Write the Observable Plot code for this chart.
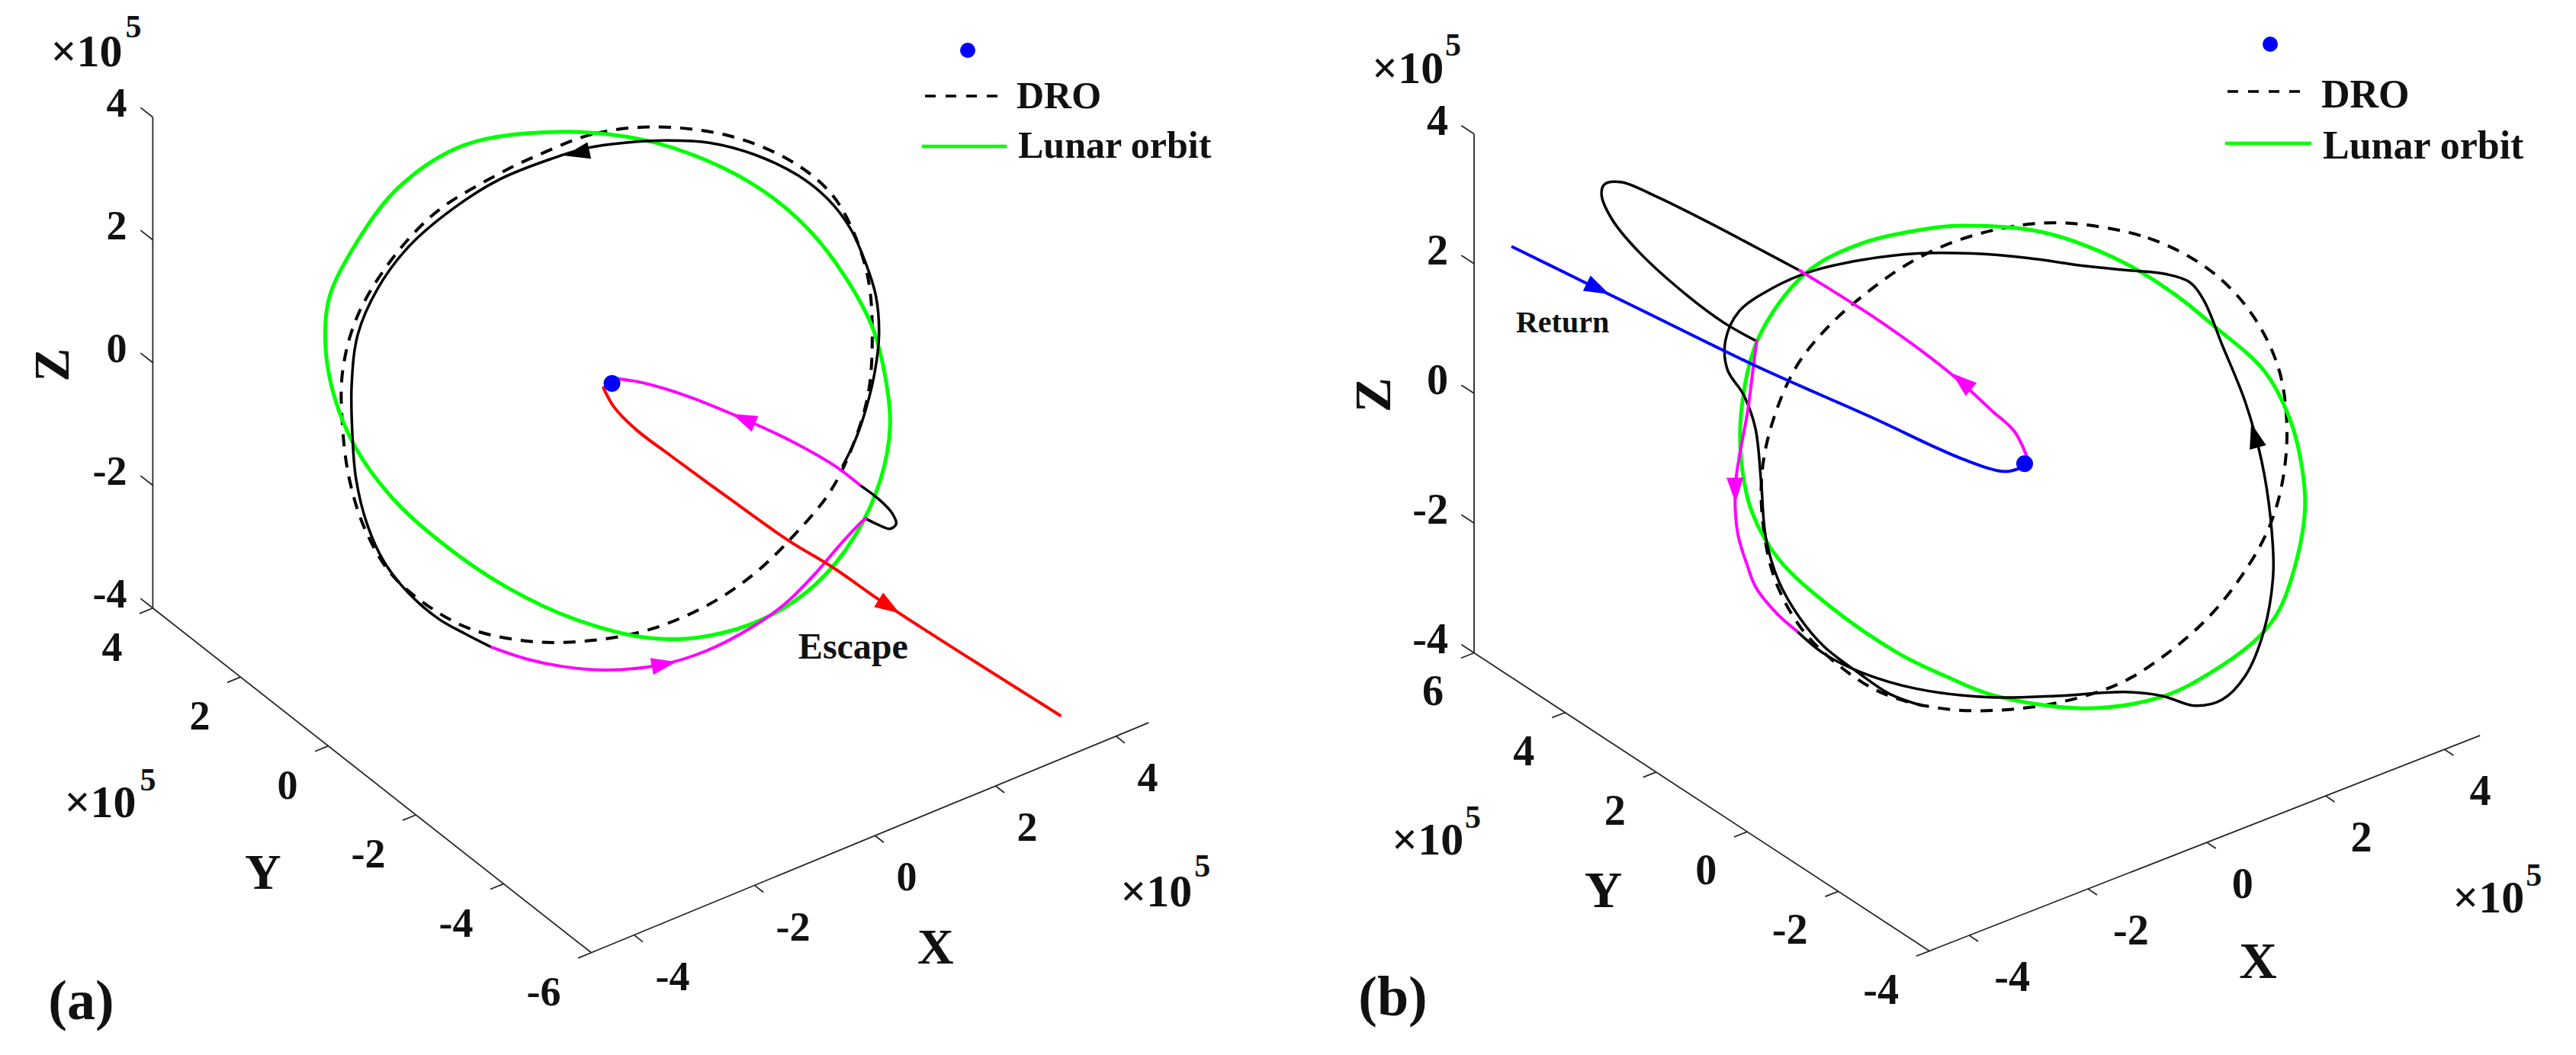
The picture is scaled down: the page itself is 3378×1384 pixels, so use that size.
<!DOCTYPE html>
<html><head><meta charset="utf-8">
<script src="https://cdn.jsdelivr.net/npm/d3@7"></script>
<script src="https://cdn.jsdelivr.net/npm/@observablehq/plot@0.6"></script>
<style>
html,body{margin:0;padding:0;background:#fff;}
#fig{display:flex;width:3378px;height:1384px;}
.panel{position:relative;width:1689px;height:1384px;}
</style></head>
<body><div id="fig"><div class="panel" id="pa"></div><div class="panel" id="pb"></div></div>
<script>
// ---------- tick values / axis limits (×1e5 km) ----------
const xTicks = [-4, -2, 0, 2, 4];
const zTicks = [-4, -2, 0, 2, 4];
const yTicksA = [-6, -4, -2, 0, 2, 4];
const yTicksB = [-4, -2, 0, 2, 4, 6];
const limitsA = {x: [-4.71, 4.54], y: [-6, 4], z: [-4, 4]};
const limitsB = {x: [-4.67, 4.60], y: [-4, 6], z: [-4, 4]};
const legendLabels = ["DRO", "Lunar orbit"];
const earth = [[0, 0]];

// ---------- panel (a): curves in view-plane coordinates (×1e5 km) ----------
const lunarA = [[-0.89,4.10],[-2.39,3.89],[-3.46,3.21],[-4.17,2.28],[-4.60,1.42],[-4.67,0.67],[-4.53,-0.19],[-4.17,-1.06],[-3.53,-1.92],[-2.68,-2.67],[-1.68,-3.34],[-0.61,-3.84],[0.61,-4.15],[1.53,-4.12],[2.46,-3.84],[3.31,-3.28],[3.96,-2.48],[4.38,-1.55],[4.53,-0.69],[4.46,0.06],[4.24,0.92],[3.81,1.72],[3.24,2.47],[2.46,3.14],[1.53,3.64],[0.46,3.98]];
const droA = [[0.68,4.18],[-0.32,4.06],[-1.25,3.70],[-1.89,3.39],[-2.89,2.77],[-3.67,1.91],[-4.17,1.04],[-4.39,0.18],[-4.39,-0.69],[-4.28,-1.55],[-4.03,-2.36],[-3.60,-3.10],[-2.96,-3.65],[-2.25,-4.02],[-1.25,-4.21],[-0.25,-4.18],[0.68,-3.99],[1.60,-3.59],[2.32,-3.10],[2.96,-2.48],[3.53,-1.80],[3.88,-1.12],[4.17,-0.19],[4.24,0.80],[4.17,1.72],[3.88,2.59],[3.53,3.14],[2.89,3.64],[1.89,4.04]];
const trajectoryA = [[3.76,-1.34],[3.96,-0.93],[4.13,-0.44],[4.28,0.18],[4.35,0.80],[4.30,1.42],[4.13,1.97],[3.88,2.53],[3.53,2.99],[3.03,3.39],[2.32,3.73],[1.60,3.92],[0.89,3.96],[0.18,3.92],[-0.39,3.84],[-0.96,3.67],[-1.82,3.33],[-2.60,2.84],[-3.32,2.22],[-3.82,1.54],[-4.14,0.80],[-4.24,-0.01],[-4.23,-0.81],[-4.17,-1.55],[-3.99,-2.29],[-3.71,-2.91],[-3.32,-3.41],[-2.82,-3.84],[-2.39,-4.08],[-1.96,-4.30]];
const transferLowA = [[-1.96,-4.30],[-1.39,-4.49],[-0.82,-4.61],[-0.11,-4.67],[0.82,-4.58],[1.53,-4.36],[2.25,-3.99],[2.82,-3.59],[3.31,-3.10],[3.74,-2.60],[4.03,-2.29],[4.13,-2.20]];
const loopA = [[4.13,-2.20],[4.31,-2.29],[4.53,-2.37],[4.63,-2.29],[4.56,-2.11],[4.35,-1.89],[4.03,-1.65]];
const transferUpA = [[4.03,-1.65],[3.67,-1.37],[2.96,-0.96],[2.17,-0.59],[1.18,-0.19],[0.46,0.02],[-0.04,0.09]];
const escapeA = [[-0.14,-0.07],[0.03,-0.38],[0.39,-0.75],[0.96,-1.18],[1.89,-1.86],[2.89,-2.57],[3.60,-3.00],[4.49,-3.62],[7.30,-5.41]];
const arrowsA = [
  {h:-0.54, v:3.76, dh:-1.14, dv:-0.25, kind:"trajectory"},
  {h:0.82, v:-4.58, dh:1.64, dv:0.31, kind:"transfer"},
  {h:2.17, v:-0.59, dh:-1.78, dv:0.77, kind:"transfer"},
  {h:4.49, v:-3.62, dh:1.0, dv:-0.64, kind:"escape"}
];
const noteA = {text: "Escape", h: 3.93, v: -4.29};

// ---------- panel (b) ----------
const lunarB = [[-0.95,3.67],[0.27,3.57],[1.47,3.13],[2.30,2.62],[2.92,2.12],[3.70,1.42],[4.10,0.65],[4.28,-0.10],[4.32,-0.70],[4.20,-1.45],[3.92,-2.26],[3.61,-2.67],[2.90,-3.20],[2.12,-3.59],[0.94,-3.77],[-0.48,-3.57],[-1.23,-3.27],[-1.95,-2.92],[-3.00,-2.20],[-3.80,-1.46],[-4.20,-0.75],[-4.35,-0.10],[-4.37,0.77],[-4.11,1.92],[-3.37,2.94],[-2.50,3.40],[-1.51,3.62]];
const droB = [[0.62,3.71],[1.90,3.48],[2.83,3.00],[3.47,2.35],[3.90,1.51],[4.04,0.61],[3.97,-0.29],[3.75,-1.02],[3.33,-1.75],[2.83,-2.37],[2.19,-2.93],[1.48,-3.38],[0.62,-3.66],[-0.38,-3.80],[-1.30,-3.77],[-2.16,-3.55],[-2.80,-3.16],[-3.44,-2.54],[-3.86,-1.75],[-4.04,-0.85],[-4.04,-0.07],[-3.86,0.72],[-3.51,1.51],[-3.01,2.13],[-2.44,2.63],[-1.80,3.08],[-1.09,3.42],[-0.23,3.65]];
const loopB = [[-3.47,2.98],[-4.11,3.32],[-4.89,3.73],[-5.68,4.12],[-6.21,4.34],[-6.47,4.31],[-6.52,4.15],[-6.36,3.77],[-5.94,3.26],[-5.16,2.56],[-4.63,2.17],[-4.13,1.89]];
const transferLeftB = [[-4.13,1.89],[-4.18,1.50],[-4.27,0.80],[-4.40,0.09],[-4.46,-0.38],[-4.42,-1.08],[-4.28,-1.55],[-4.14,-1.91],[-3.81,-2.32],[-3.51,-2.58]];
const trajectoryB = [[-3.51,-2.58],[-3.09,-2.93],[-2.51,-3.22],[-1.66,-3.47],[-0.52,-3.60],[0.48,-3.58],[1.55,-3.52],[2.12,-3.58],[2.62,-3.73],[3.04,-3.64],[3.40,-3.27],[3.68,-2.60],[3.83,-1.70],[3.79,-0.85],[3.65,0.05],[3.40,0.95],[3.04,1.84],[2.76,2.52],[2.54,2.80],[2.19,2.92],[1.62,2.98],[0.91,3.05],[0.05,3.17],[-0.80,3.24],[-1.66,3.24],[-2.51,3.14],[-3.30,2.96],[-3.86,2.72],[-4.40,2.35],[-4.61,1.90],[-4.58,1.45],[-4.33,1.06],[-4.15,0.55],[-4.06,-0.29],[-3.99,-1.13],[-3.79,-1.81],[-3.47,-2.37],[-3.09,-2.82],[-2.58,-3.21],[-2.08,-3.55],[-1.58,-3.73]];
const departB = [[0.05,0.07],[-0.16,0.50],[-0.52,0.83],[-0.95,1.23],[-1.51,1.68],[-2.37,2.29],[-3.08,2.74],[-3.47,2.98]];
const returnB = [[-7.89,3.34],[-5.93,2.38],[-4.15,1.51],[-2.37,0.72],[-0.95,0.07],[-0.30,-0.12],[-0.03,-0.05]];
const arrowsB = [
  {h:-6.60, v:2.71, dh:1.78, dv:-0.87, kind:"return"},
  {h:-0.95, v:1.25, dh:-1.0, dv:0.84, kind:"transfer"},
  {h:-4.46, v:-0.38, dh:0.02, dv:-1, kind:"transfer"},
  {h:3.55, v:0.41, dh:-0.25, dv:0.9, kind:"trajectory"}
];
const noteB = {text: "Return", h: -7.12, v: 2.18};

// ---------- styling ----------
const FONT = '"Liberation Serif","Times New Roman",Times,serif';
const COLORS = {trajectory: "#000000", transfer: "#ff00ff", escape: "#ff0000", return: "#0000ff", lunar: "#00ff00", dro: "#000000", earth: "#0000ff"};
const arrowHead = {draw(ctx, size) {
  const r = Math.sqrt(size / Math.PI);
  ctx.moveTo(0, -1.35 * r); ctx.lineTo(0.8 * r, 1.0 * r); ctx.lineTo(-0.8 * r, 1.0 * r); ctx.closePath();
}};
const txt = (data, o) => Plot.text(data, {fontFamily: FONT, fontWeight: "bold", fill: "#111", ...o});
const fmt = t => t < 0 ? "-" + Math.abs(t) : String(t);

function buildPanel(c) {
  const P = (x, y, z) => [x * c.ex[0] + y * c.ey[0], x * c.ex[1] + y * c.ey[1] + z];
  const [x0, x1] = c.lim.x, [y0, y1] = c.lim.y, [z0, z1] = c.lim.z;
  const k = c.fontScale;
  const axisLines = [
    {a: P(x0, y1, z0), b: P(x0, y1, z1)},
    {a: P(x0, y1, z0), b: P(x0, y0, z0)},
    {a: P(x0, y0, z0), b: P(x1, y0, z0)}];
  const stubs = [
    ...zTicks.map(t => ({a: P(x0, y1, t), b: P(x0, y1 + 0.28, t)})),
    ...c.yTicks.map(t => ({a: P(x0, t, z0), b: P(x0 - 0.22, t, z0)})),
    ...xTicks.map(t => ({a: P(t, y0, z0), b: P(t, y0 - 0.2, z0)}))];
  const link = data => Plot.link(data, {x1: d => d.a[0], y1: d => d.a[1], x2: d => d.b[0], y2: d => d.b[1], stroke: "#262626", strokeWidth: 1.8});
  const marks = [link(axisLines), link(stubs)];
  const L = c.lab;
  marks.push(
    txt(zTicks, {x: t => P(x0, y1, t)[0], y: t => P(x0, y1, t)[1], text: fmt, textAnchor: "end", dx: L.z[0], dy: L.z[1], fontSize: 54 * k}),
    txt(c.yTicks, {x: t => P(x0, t, z0)[0], y: t => P(x0, t, z0)[1], text: fmt, textAnchor: "end", dx: L.y[0], dy: L.y[1], fontSize: 54 * k}),
    txt(xTicks, {x: t => P(t, y0, z0)[0], y: t => P(t, y0, z0)[1], text: fmt, textAnchor: "start", dx: L.x[0], dy: L.x[1], fontSize: 54 * k})
  );
  const T = c.titles;
  const zt = P(x0, y1, 0), yt = P(x0, (y0 + y1) / 2, z0), xt = P((x0 + x1) / 2, y0, z0);
  marks.push(
    txt(["Z"], {x: () => zt[0], y: () => zt[1], text: d => d, dx: T.z[0], dy: T.z[1], rotate: -90, fontSize: 66 * k}),
    txt(["Y"], {x: () => yt[0], y: () => yt[1], text: d => d, dx: T.y[0], dy: T.y[1], fontSize: 66 * k}),
    txt(["X"], {x: () => xt[0], y: () => xt[1], text: d => d, dx: T.x[0], dy: T.x[1], fontSize: 66 * k})
  );
  const E = c.exp;
  const anchors = {z: P(x0, y1, z1), y: P(x0, y1, z0), x: P(x1, y0, z0)};
  for (const key of ["z", "y", "x"]) {
    const a = anchors[key];
    marks.push(
      txt(["×10"], {x: () => a[0], y: () => a[1], text: d => d, textAnchor: "start", dx: E[key][0], dy: E[key][1], fontSize: 60}),
      txt(["5"], {x: () => a[0], y: () => a[1], text: d => d, textAnchor: "start", dx: E[key][2], dy: E[key][3], fontSize: 42})
    );
  }
  for (const s of c.series) {
    marks.push(Plot.line(s.data, {x: d => d[0], y: d => d[1], stroke: s.stroke, strokeWidth: s.width,
      strokeDasharray: s.dash, strokeLinecap: s.dash ? "butt" : "round", strokeLinejoin: "round",
      curve: s.closed ? "catmull-rom-closed" : "catmull-rom"}));
  }
  for (const kind of ["trajectory", "transfer", "escape", "return"]) {
    const arr = c.arrows.filter(d => d.kind === kind);
    if (arr.length) marks.push(Plot.dot(arr, {x: "h", y: "v", symbol: arrowHead, r: 14, fill: COLORS[kind], stroke: "none",
      rotate: d => Math.atan2(d.dh, d.dv) * 180 / Math.PI}));
  }
  marks.push(Plot.dot(earth, {x: d => d[0], y: d => d[1], r: 11, fill: COLORS.earth, stroke: "none"}));
  marks.push(txt([c.note], {x: "h", y: "v", text: "text", fontSize: c.noteSize}));
  marks.push(txt([c.panelLabel], {frameAnchor: "top-left", text: d => d, textAnchor: "middle", dx: c.panelPos[0], dy: c.panelPos[1], fontSize: 74}));

  const svg = Plot.plot({
    width: c.W, height: c.H, margin: 0,
    x: {domain: [-c.ox / c.s, (c.W - c.ox) / c.s], range: [0, c.W], axis: null},
    y: {domain: [(c.oy - c.H) / c.s, c.oy / c.s], range: [c.H, 0], axis: null},
    style: {background: "white", overflow: "visible", fontFamily: FONT},
    marks
  });
  const g = d3.select(svg).append("g").attr("font-family", FONT).attr("font-weight", "bold")
    .attr("font-size", c.leg.fs).attr("text-anchor", "start").attr("fill", "#111");
  g.append("circle").attr("cx", c.leg.dot[0]).attr("cy", c.leg.dot[1]).attr("r", 10).attr("fill", COLORS.earth);
  g.append("line").attr("x1", c.leg.dash[0]).attr("x2", c.leg.dash[1]).attr("y1", c.leg.dash[2]).attr("y2", c.leg.dash[2])
    .attr("stroke", COLORS.dro).attr("stroke-width", 3.5).attr("stroke-dasharray", "14,13");
  g.append("text").attr("x", c.leg.dro[0]).attr("y", c.leg.dro[1]).attr("text-anchor", "start").text(legendLabels[0]);
  g.append("line").attr("x1", c.leg.green[0]).attr("x2", c.leg.green[1]).attr("y1", c.leg.green[2]).attr("y2", c.leg.green[2])
    .attr("stroke", COLORS.lunar).attr("stroke-width", 4.5);
  g.append("text").attr("x", c.leg.lunar[0]).attr("y", c.leg.lunar[1]).attr("text-anchor", "start").text(legendLabels[1]);
  return svg;
}

const panelA = buildPanel({
  W: 1689, H: 1384, ox: 802, oy: 502.5, s: 80.5, fontScale: 1,
  ex: [0.9814, 0.4050], ey: [-0.7143, 0.5615], lim: limitsA, yTicks: yTicksA,
  lab: {z: [-34, -18], y: [-40, 52], x: [28, 55]},
  titles: {z: [-132, 3], y: [-143, 121], x: [86, 144]},
  exp: {z: [-134, -86, -36, -118], y: [-116, 255, -17, 226], x: [-37, 222, 60, 188]},
  series: [
    {data: droA, stroke: COLORS.dro, width: 4, dash: "16,12", closed: true},
    {data: lunarA, stroke: COLORS.lunar, width: 5, closed: true},
    {data: trajectoryA, stroke: COLORS.trajectory, width: 3.5},
    {data: loopA, stroke: COLORS.trajectory, width: 3.5},
    {data: transferLowA, stroke: COLORS.transfer, width: 4},
    {data: transferUpA, stroke: COLORS.transfer, width: 4},
    {data: escapeA, stroke: COLORS.escape, width: 4}
  ],
  arrows: arrowsA, note: noteA, noteSize: 48,
  panelLabel: "(a)", panelPos: [106, 1284],
  leg: {fs: 50, dot: [1269, 66], dash: [1213, 1312, 126], dro: [1333, 142], green: [1209, 1320, 192], lunar: [1335, 207]}
});

const panelB = buildPanel({
  W: 1689, H: 1384, ox: 965.5, oy: 607.8, s: 85.1, fontScale: 1.04,
  ex: [0.9154, 0.3584], ey: [-0.7015, 0.4595], lim: limitsB, yTicks: yTicksB,
  lab: {z: [-34, -17], y: [-40, 51], x: [33, 55]},
  titles: {z: [-132, 2], y: [-129, 116], x: [70, 155]},
  exp: {z: [-134, -86, -38, -116], y: [-108, 245, -12, 216], x: [-36, 213, 60, 184]},
  series: [
    {data: droB, stroke: COLORS.dro, width: 4, dash: "16,12", closed: true},
    {data: lunarB, stroke: COLORS.lunar, width: 5, closed: true},
    {data: loopB, stroke: COLORS.trajectory, width: 3.5},
    {data: trajectoryB, stroke: COLORS.trajectory, width: 3.5},
    {data: transferLeftB, stroke: COLORS.transfer, width: 4},
    {data: departB, stroke: COLORS.transfer, width: 4},
    {data: returnB, stroke: COLORS.return, width: 4}
  ],
  arrows: arrowsB, note: noteB, noteSize: 40,
  panelLabel: "(b)", panelPos: [137, 1279],
  leg: {fs: 52, dot: [1288, 58], dash: [1232, 1333, 120], dro: [1355, 141], green: [1229, 1342, 188], lunar: [1357, 208]}
});

document.getElementById("pa").appendChild(panelA);
document.getElementById("pb").appendChild(panelB);
</script></body></html>
